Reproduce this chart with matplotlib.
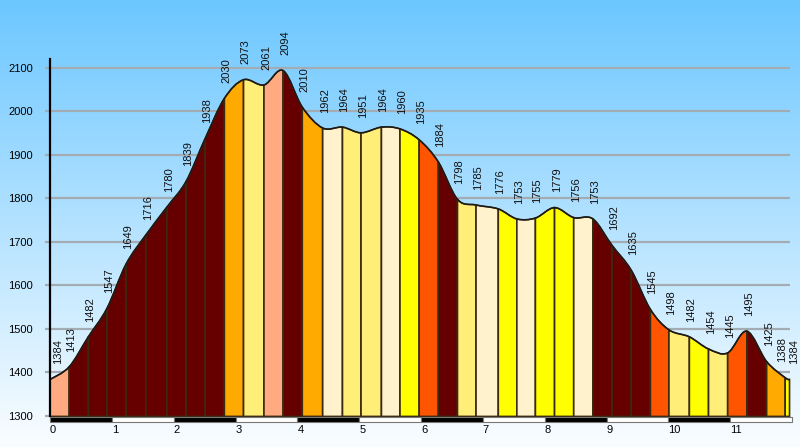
import matplotlib
matplotlib.use("Agg")
import matplotlib.pyplot as plt
import numpy as np
from matplotlib.path import Path
from matplotlib.patches import PathPatch, Rectangle

plt.rcParams["font.family"] = ["Liberation Sans", "DejaVu Sans"]

# distance (km) and elevation (m) of each profile point
dist_km = [0.00, 0.31, 0.62, 0.92, 1.23, 1.55, 1.89, 2.20, 2.51, 2.82,
           3.13, 3.46, 3.77, 4.08, 4.41, 4.73, 5.03, 5.36, 5.66, 5.97,
           6.28, 6.59, 6.89, 7.25, 7.55, 7.85, 8.16, 8.47, 8.78, 9.09,
           9.40, 9.71, 10.01, 10.34, 10.65, 10.96, 11.27, 11.59, 11.89, 11.96]
elev_m = [1384, 1413, 1482, 1547, 1649, 1716, 1780, 1839, 1938, 2030,
          2073, 2061, 2094, 2010, 1962, 1964, 1951, 1964, 1960, 1935,
          1884, 1798, 1785, 1776, 1753, 1755, 1779, 1756, 1753, 1692,
          1635, 1545, 1498, 1482, 1454, 1445, 1495, 1425, 1388, 1384]

# gradient class of every segment
seg_class = ["peach", "maroon", "maroon", "maroon", "maroon", "maroon", "maroon", "maroon", "maroon",
             "orange", "lyellow", "peach", "maroon", "orange", "cream", "lyellow", "lyellow", "cream",
             "yellow", "red", "maroon", "lyellow", "cream", "yellow", "cream", "yellow", "yellow",
             "cream", "maroon", "maroon", "maroon", "red", "lyellow", "yellow", "lyellow", "red",
             "maroon", "orange", "yellow"]
palette = {"peach": "#ffaa80", "maroon": "#660000", "orange": "#ffaa00", "lyellow": "#ffee77",
           "cream": "#fff2cc", "yellow": "#ffff00", "red": "#ff5500"}

km_ticks = list(range(12))
elev_ticks = [1300, 1400, 1500, 1600, 1700, 1800, 1900, 2000, 2100]

BASE = 1299
X_MAX = 12.0

fig = plt.figure(figsize=(8, 4.47), dpi=100)

# sky gradient background
bg = fig.add_axes([0, 0, 1, 1], zorder=-10)
top = np.array([108, 199, 255]) / 255
bot = np.array([250, 253, 255]) / 255
t = np.linspace(0, 1, 256)[:, None]
grad = top * (1 - t) + bot * t
bg.imshow(grad[:, None, :].repeat(2, axis=1), aspect="auto", extent=[0, 1, 0, 1])
bg.axis("off")

ax = fig.add_axes([50 / 800, 24 / 447, 742 / 800, 363.7 / 447])
ax.patch.set_visible(False)
ax.set_xlim(0, X_MAX)
ax.set_ylim(1283.9, 2120)

x = np.array(dist_km, dtype=float)
y = np.array(elev_m, dtype=float)
n = len(x)

# grid lines behind the profile
for e in elev_ticks[1:]:
    ax.plot([0, x[-1]], [e, e], color="#a3abb3", lw=1.6, zorder=1, solid_capstyle="butt")


# smooth top edge: Catmull-Rom segments as cubic Bezier curves
def ctrl(i):
    p0 = np.array([x[max(i - 1, 0)], y[max(i - 1, 0)]])
    p1 = np.array([x[i], y[i]])
    p2 = np.array([x[i + 1], y[i + 1]])
    p3 = np.array([x[min(i + 2, n - 1)], y[min(i + 2, n - 1)]])
    return p1 + (p2 - p0) / 6, p2 - (p3 - p1) / 6


outline_verts, outline_codes = [(x[0], y[0])], [Path.MOVETO]
for i in range(n - 1):
    c1, c2 = ctrl(i)
    verts = [(x[i], BASE), (x[i], y[i]), tuple(c1), tuple(c2), (x[i + 1], y[i + 1]),
             (x[i + 1], BASE), (x[i], BASE)]
    codes = [Path.MOVETO, Path.LINETO, Path.CURVE4, Path.CURVE4, Path.CURVE4,
             Path.LINETO, Path.CLOSEPOLY]
    ax.add_patch(PathPatch(Path(verts, codes), facecolor=palette[seg_class[i]],
                           edgecolor="#3a2a10", lw=1.2, zorder=2))
    outline_verts += [tuple(c1), tuple(c2), (x[i + 1], y[i + 1])]
    outline_codes += [Path.CURVE4] * 3
ax.add_patch(PathPatch(Path(outline_verts, outline_codes), facecolor="none",
                       edgecolor="#1a1a1a", lw=1.0, zorder=3))

# elevation labels
for i, (xi, yi) in enumerate(zip(x, y)):
    dx = 1.5
    if i == 0:
        dx = 6
    elif i == n - 2:
        dx = -2.5
    elif i == n - 1:
        dx = 3
    ax.annotate(str(int(yi)), (xi, yi), xytext=(dx, 11), textcoords="offset points",
                rotation=90, ha="center", va="bottom", fontsize=8, color="#111111",
                annotation_clip=False, zorder=4)

# km bar along the bottom
for k in km_ticks:
    ax.add_patch(Rectangle((k, 1287), min(1, X_MAX - k), 11.5,
                           facecolor="black" if k % 2 == 0 else "white",
                           edgecolor="#777777", lw=0.8, zorder=3, clip_on=False))

ax.set_xticks(km_ticks)
ax.set_xticklabels([str(k) for k in km_ticks], ha="left")
ax.tick_params(axis="x", length=0, pad=1.5, labelsize=8)
ax.set_yticks(elev_ticks)
ax.tick_params(axis="y", length=3.8, width=1.6, color="#a3abb3", pad=8.5, labelsize=8)

for s in ["top", "right", "bottom"]:
    ax.spines[s].set_visible(False)
ax.spines["left"].set_linewidth(1.6)
ax.spines["left"].set_color("black")
ax.spines["left"].set_bounds(1299, 2120)
ax.spines["left"].set_zorder(5)

fig.savefig("out.png", dpi=100)
